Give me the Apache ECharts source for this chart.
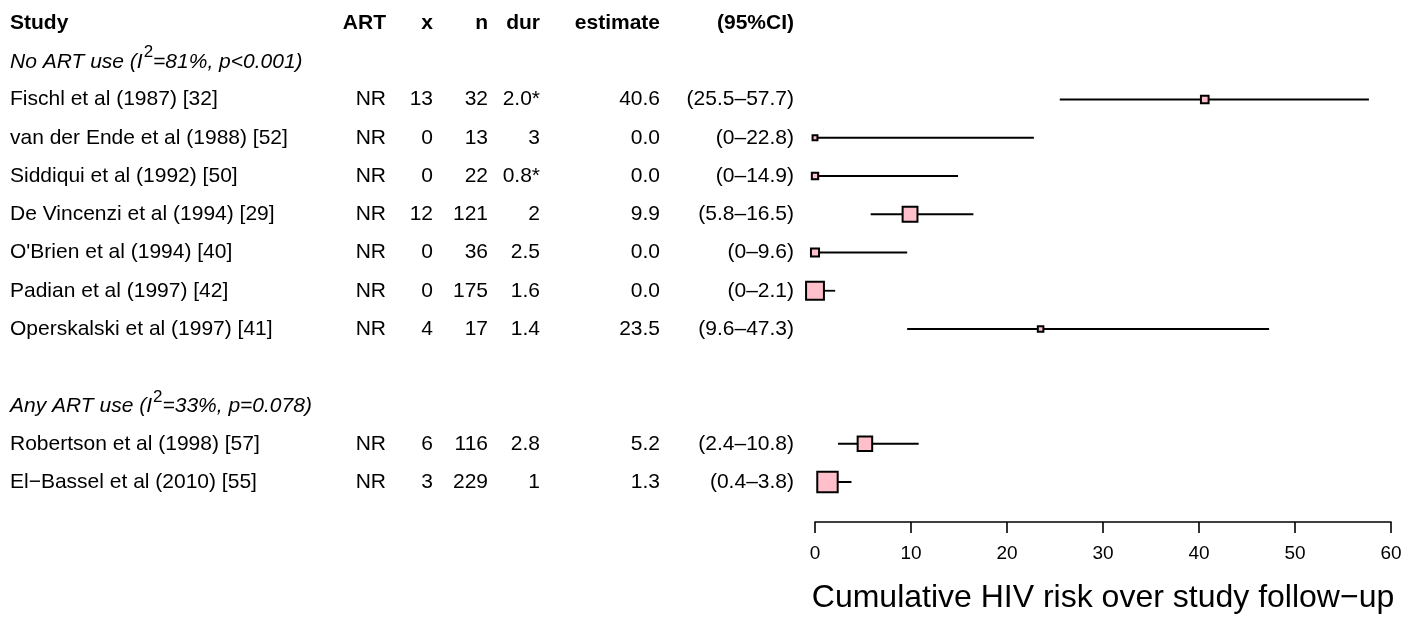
<!DOCTYPE html>
<html><head><meta charset="utf-8">
<script src="https://cdn.jsdelivr.net/npm/echarts@6/dist/echarts.min.js"></script>
<style>html,body{margin:0;padding:0;background:#fff}#c{width:1410px;height:619px}</style>
</head><body><div id="c"></div>
<script>
// ---- data ----
const headers = ["Study", "ART", "x", "n", "dur", "estimate", "(95%CI)"];
// group label pieces: [before superscript, superscript, after superscript]
const groupLabels = [
  ["No ART use (I", "2", "=81%, p<0.001)"],
  ["Any ART use (I", "2", "=33%, p=0.078)"]
];
const groupRows = [1, 10];
const studies = [
  "Fischl et al (1987) [32]",
  "van der Ende et al (1988) [52]",
  "Siddiqui et al (1992) [50]",
  "De Vincenzi et al (1994) [29]",
  "O'Brien et al (1994) [40]",
  "Padian et al (1997) [42]",
  "Operskalski et al (1997) [41]",
  "Robertson et al (1998) [57]",
  "El−Bassel et al (2010) [55]"
];
const art = ["NR", "NR", "NR", "NR", "NR", "NR", "NR", "NR", "NR"];
const events = [13, 0, 0, 12, 0, 0, 4, 6, 3];
const totals = [32, 13, 22, 121, 36, 175, 17, 116, 229];
const durations = ["2.0*", "3", "0.8*", "2", "2.5", "1.6", "1.4", "2.8", "1"];
const estimates = [40.6, 0.0, 0.0, 9.9, 0.0, 0.0, 23.5, 5.2, 1.3];
const lower = [25.5, 0, 0, 5.8, 0, 0, 9.6, 2.4, 0.4];
const upper = [57.7, 22.8, 14.9, 16.5, 9.6, 2.1, 47.3, 10.8, 3.8];
const studyRows = [2, 3, 4, 5, 6, 7, 8, 11, 12];
const xTicks = [0, 10, 20, 30, 40, 50, 60];
const xTitle = "Cumulative HIV risk over study follow−up";

// ---- layout ----
const FONT = '"Liberation Sans", Arial, Helvetica, sans-serif';
const colX = [10, 386, 433, 488, 540, 660, 794];
const colAlign = ['left', 'right', 'right', 'right', 'right', 'right', 'right'];
const fs = 21;

const fmtLo = v => v === 0 ? "0" : v.toFixed(1);
const textItems = [];
textItems.push({ row: 0, cells: headers, kind: 'header' });
groupRows.forEach((r, i) => textItems.push({ row: r, cells: [groupLabels[i]], kind: 'group' }));
studies.forEach((s, i) => textItems.push({
  row: studyRows[i], kind: 'study',
  cells: [s, art[i], String(events[i]), String(totals[i]), durations[i],
          estimates[i].toFixed(1), "(" + fmtLo(lower[i]) + "–" + upper[i].toFixed(1) + ")"]
}));

const chart = echarts.init(document.getElementById('c'), null, { renderer: 'canvas' });
const gridTop = 23, gridH = 459;
chart.setOption({
  animation: false,
  backgroundColor: '#ffffff',
  grid: [
    { left: 0, width: 1410, top: gridTop, height: gridH, containLabel: false },
    { left: 815, width: 576, top: gridTop, height: gridH, containLabel: false }
  ],
  xAxis: [
    { gridIndex: 0, type: 'value', min: 0, max: 1410, show: false },
    {
      gridIndex: 1, type: 'value', min: 0, max: 60, interval: 10,
      position: 'bottom', offset: 40,
      axisLine: { show: true, onZero: false, lineStyle: { color: '#000', width: 1.6 } },
      axisTick: { show: true, inside: false, length: 11, lineStyle: { color: '#000', width: 1.6 } },
      axisLabel: { color: '#000', fontSize: 19, fontFamily: FONT, margin: 22,
                   formatter: v => xTicks.includes(v) ? String(v) : '' },
      splitLine: { show: false },
      name: xTitle, nameLocation: 'middle', nameGap: 60,
      nameTextStyle: { color: '#000', fontSize: 32, fontFamily: FONT }
    }
  ],
  yAxis: [
    { gridIndex: 0, type: 'value', min: 0, max: 12, inverse: true, show: false },
    { gridIndex: 1, type: 'value', min: 0, max: 12, inverse: true, show: false }
  ],
  series: [
    {
      type: 'custom', xAxisIndex: 0, yAxisIndex: 0, silent: true, clip: false,
      data: textItems.map(t => [0, t.row]),
      encode: { x: 0, y: 1 },
      renderItem: function (params, api) {
        const item = textItems[params.dataIndex];
        const children = item.cells.map((c, i) => {
          const p = api.coord([colX[i], item.row]);
          if (item.kind === 'group') {
            return {
              type: 'text', x: p[0], y: p[1] - 3,
              style: {
                text: '{a|' + c[0] + '}{s|' + c[1] + '}{a|' + c[2] + '}',
                align: 'left', verticalAlign: 'middle',
                textAlign: 'left', textVerticalAlign: 'middle',
                rich: {
                  a: { fontSize: fs, fontStyle: 'italic', fontFamily: FONT, fill: '#000', color: '#000', verticalAlign: 'bottom' },
                  s: { fontSize: 17, fontFamily: FONT, fill: '#000', color: '#000',
                       verticalAlign: 'bottom', padding: [0, 0, 11, 1] }
                }
              }
            };
          }
          let font = fs + 'px ' + FONT;
          if (item.kind === 'header') font = 'bold ' + font;
          return {
            type: 'text', x: p[0], y: p[1],
            style: { text: c, fill: '#000', font: font,
                     textAlign: colAlign[i], textVerticalAlign: 'middle',
                     align: colAlign[i], verticalAlign: 'middle' }
          };
        });
        return { type: 'group', children };
      }
    },
    {
      type: 'custom', xAxisIndex: 1, yAxisIndex: 1, silent: true, clip: false,
      data: studies.map((s, i) => [estimates[i], lower[i], upper[i], studyRows[i], totals[i]]),
      encode: { x: [0, 1, 2], y: 3 },
      renderItem: function (params, api) {
        const row = api.value(3);
        const c = api.coord([api.value(0), row]);
        const l = api.coord([api.value(1), row]);
        const h = api.coord([api.value(2), row]);
        const s = 1.35 * Math.sqrt(api.value(4));
        return {
          type: 'group',
          children: [
            { type: 'line', shape: { x1: l[0], y1: l[1], x2: h[0], y2: h[1] },
              style: { stroke: '#000', lineWidth: 1.8 } },
            { type: 'rect', shape: { x: c[0] - s / 2, y: c[1] - s / 2, width: s, height: s },
              style: { fill: '#FFC0CB', stroke: '#000', lineWidth: 2 } }
          ]
        };
      }
    }
  ]
});
</script>
</body></html>
